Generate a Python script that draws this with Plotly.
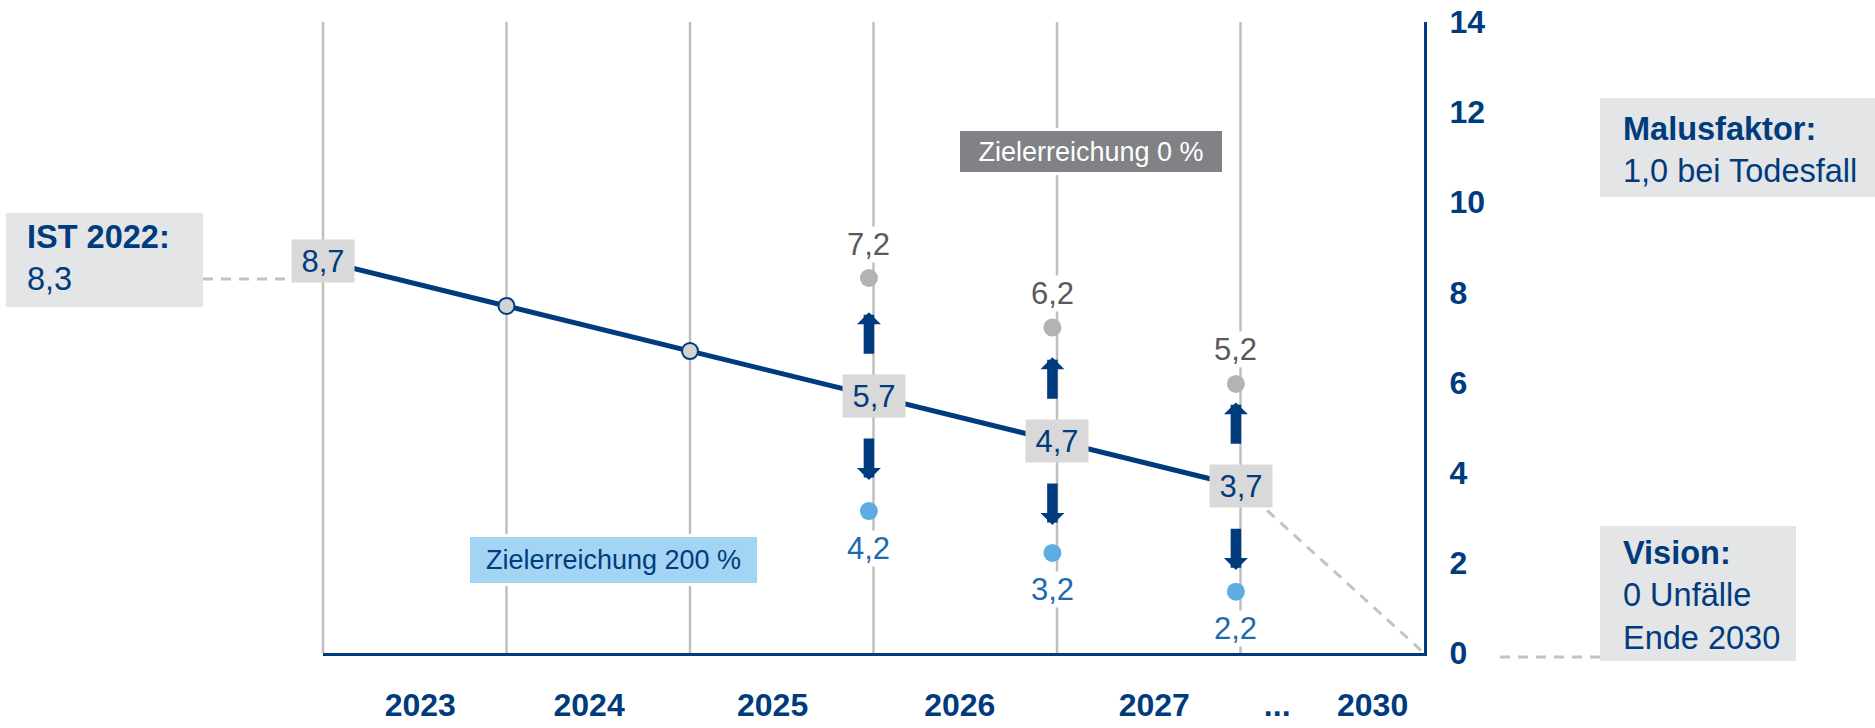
import plotly.graph_objects as go

# ---------------- data ----------------
years = ["2023", "2024", "2025", "2026", "2027", "...", "2030"]
year_label_pos = [0.53, 1.45, 2.45, 3.47, 4.53, 5.2, 5.72]
grid_x = [0, 1, 2, 3, 4, 5]
target_x = [0, 1, 2, 3, 4, 5]
target_values = [8.7, 7.7, 6.7, 5.7, 4.7, 3.7]
boxed_idx = [0, 3, 4, 5]
ring_idx = [1, 2]
range_idx = [3, 4, 5]
upper_labels = ["7,2", "6,2", "5,2"]      # Zielerreichung 0 %
upper_pos = [8.32, 7.22, 5.97]             # as drawn in the picture
lower_labels = ["4,2", "3,2", "2,2"]      # Zielerreichung 200 %
lower_pos = [3.15, 2.22, 1.36]             # as drawn in the picture
ist_value = 8.3
vision_x = 6
vision_value = 0
y_ticks = [0, 2, 4, 6, 8, 10, 12, 14]

# ---------------- style / layout ----------------
W, H = 1875, 728
OFF = 0                      # page body margin (set to 0 below)
SL, SR, ST, SB = 323, 1424, 22, 653   # plot area on screen
NAVY = "#003C7D"
GRID = "#BFBFBF"
DASH = "#C3C3C3"
BOXGRAY = "#D9D9D9"
INFOGRAY = "#E4E5E7"
FONT = "Liberation Sans, Arial, sans-serif"
XMAX, YMAX = 6, 14
XOFF = -0.025
GAP, LEN = 0.93, 0.93


def pxx(px):
    return (px - SL) / (SR - SL)


def pxy(py):
    return (SB - py) / (SB - ST)


def fmt(v):
    return f"{v:.1f}".replace(".", ",")


fig = go.Figure()

# main target line
fig.add_trace(go.Scatter(x=target_x, y=target_values, mode="lines",
                         line=dict(color=NAVY, width=5), hoverinfo="skip"))
# dashed continuation to vision
fig.add_trace(go.Scatter(x=[target_x[-1], vision_x], y=[target_values[-1], vision_value],
                         mode="lines", line=dict(color=DASH, width=3, dash="10px,8px"),
                         hoverinfo="skip"))
# ring markers
fig.add_trace(go.Scatter(x=[target_x[i] for i in ring_idx], y=[target_values[i] for i in ring_idx],
                         mode="markers",
                         marker=dict(size=16, color="#D1D3D4", line=dict(color=NAVY, width=2)),
                         hoverinfo="skip"))
# upper / lower dots
rx = [target_x[i] + XOFF for i in range_idx]
fig.add_trace(go.Scatter(x=rx, y=upper_pos, mode="markers",
                         marker=dict(size=18, color="#B3B3B3"), hoverinfo="skip"))
fig.add_trace(go.Scatter(x=rx, y=lower_pos, mode="markers",
                         marker=dict(size=18, color="#5DADE2"), hoverinfo="skip"))

ann = []
# value boxes on the line
for i in boxed_idx:
    ann.append(dict(x=target_x[i], y=target_values[i], xref="x", yref="y", text=fmt(target_values[i]),
                    showarrow=False, bgcolor=BOXGRAY, width=60, height=40, borderpad=1,
                    font=dict(family=FONT, size=31, color=NAVY)))
# labels for dots
for x, y, t in zip(rx, upper_pos, upper_labels):
    ann.append(dict(x=x, y=y, xref="x", yref="y", text=t, showarrow=False, yshift=34,
                    bgcolor="white", borderpad=0, font=dict(family=FONT, size=31, color="#595959")))
for x, y, t in zip(rx, lower_pos, lower_labels):
    ann.append(dict(x=x, y=y, xref="x", yref="y", text=t, showarrow=False, yshift=-37,
                    bgcolor="white", borderpad=0, font=dict(family=FONT, size=31, color="#1C6AAE")))
# arrows
for i, x in zip(range_idx, rx):
    t = target_values[i]
    for sgn in (1, -1):
        ann.append(dict(x=x, y=t + sgn * (GAP + LEN), ax=x, ay=t + sgn * GAP,
                        xref="x", yref="y", axref="x", ayref="y",
                        text="", showarrow=True, arrowhead=1, arrowsize=0.38, arrowwidth=10.5,
                        arrowcolor=NAVY, standoff=0, startstandoff=0, borderpad=0,
                        font=dict(size=1)))

# Zielerreichung boxes
ann.append(dict(x=pxx(1091), y=pxy(151.5), xref="paper", yref="paper", text="Zielerreichung 0 %",
                xanchor="center", yanchor="middle",
                showarrow=False, bgcolor="#808285", bordercolor="white", borderwidth=3, borderpad=0,
                width=262, height=41, font=dict(family=FONT, size=27, color="white")))
ann.append(dict(x=pxx(613.5), y=pxy(560), xref="paper", yref="paper", text="Zielerreichung 200 %",
                xanchor="center", yanchor="middle",
                showarrow=False, bgcolor="#A3D4F3", bordercolor="white", borderwidth=3, borderpad=0,
                width=287, height=46, font=dict(family=FONT, size=27, color=NAVY)))

shapes = []
# vertical grid lines
for gx in grid_x:
    shapes.append(dict(type="line", xref="paper", yref="paper", x0=gx / XMAX, x1=gx / XMAX,
                       y0=0, y1=1, line=dict(color=GRID, width=2.5), layer="below"))

# info boxes (outside plot)
info = [
    ((6, 213, 203, 307), (26, 258), "<b>IST 2022:</b><br>" + fmt(ist_value)),
    ((1600, 98, 1895, 197), (1622, 150), "<b>Malusfaktor:</b><br>1,0 bei Todesfall"),
    ((1600, 526, 1796, 661), (1622, 595), "<b>Vision:</b><br>0 Unfälle<br>Ende 2030"),
]
for (x0, y0, x1, y1), (tx, ty), txt in info:
    shapes.append(dict(type="rect", xref="paper", yref="paper", x0=pxx(x0), x1=pxx(x1),
                       y0=pxy(y1), y1=pxy(y0), fillcolor=INFOGRAY, line=dict(width=0), layer="below"))
    ann.append(dict(x=pxx(tx), y=pxy(ty), xref="paper", yref="paper", text=txt, showarrow=False,
                    xanchor="left", yanchor="middle", align="left", borderpad=0,
                    font=dict(family=FONT, size=32.5, color=NAVY)))

# dashed connectors
shapes.append(dict(type="line", xref="paper", yref="paper", x0=pxx(203), x1=target_x[0] / XMAX,
                   y0=ist_value / YMAX, y1=ist_value / YMAX,
                   line=dict(color=DASH, width=3, dash="10px,8px")))
shapes.append(dict(type="line", xref="paper", yref="paper", x0=pxx(1500), x1=pxx(1600),
                   y0=pxy(657), y1=pxy(657),
                   line=dict(color=DASH, width=3, dash="10px,8px")))

fig.update_layout(
    width=W, height=H,
    margin=dict(l=SL - OFF, r=W - (SR - OFF), t=ST - OFF, b=H - (SB - OFF), autoexpand=False),
    paper_bgcolor="white", plot_bgcolor="white",
    showlegend=False,
    font=dict(family=FONT, color=NAVY),
    xaxis=dict(range=[0, XMAX], tickmode="array", tickvals=year_label_pos, ticktext=years,
               ticks="", showgrid=False, zeroline=False, showline=True, linecolor=NAVY, linewidth=3,
               automargin=False, ticklabeloverflow="allow",
               tickfont=dict(family=FONT, size=32, color=NAVY, weight="bold"),
               ticklabelstandoff=22),
    yaxis=dict(range=[0, YMAX], side="right", tickmode="array", tickvals=y_ticks,
               ticks="", showgrid=False, zeroline=False, showline=True, linecolor=NAVY, linewidth=3,
               automargin=False, ticklabeloverflow="allow",
               tickfont=dict(family=FONT, size=32, color=NAVY, weight="bold"),
               ticklabelstandoff=16),
    annotations=ann,
    shapes=shapes,
)

fig.write_html("out.html", config={"displayModeBar": False},
               post_script="document.body.style.margin='0px';")
